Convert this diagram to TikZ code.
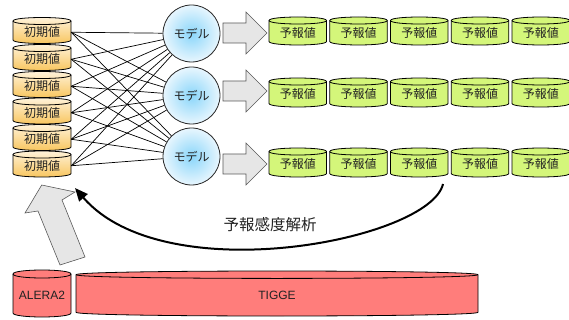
\documentclass[tikz,border=0pt]{standalone}
\usepackage{fontspec}
\setmainfont{Liberation Sans}
\newfontfamily\jpfont{Noto Sans CJK JP}
\usetikzlibrary{arrows.meta}
\definecolor{initTop}{HTML}{FFF4DE}
\definecolor{initBot}{HTML}{F8C45A}
\definecolor{fcGreen}{HTML}{D4F67A}
\definecolor{dbRed}{HTML}{FF7D7B}
\definecolor{mdlIn}{HTML}{8AD6FA}
\definecolor{mdlOut}{HTML}{E8F6FE}
\definecolor{arrGray}{HTML}{E6E6E6}
\definecolor{txtGray}{HTML}{222222}
% #1 name, #2 x1, #3 y1 (top), #4 x2, #5 y2 (bottom), #6 ry, #7 fill style, #8 text
\newcommand\mycyl[8]{%
  \path[#7, draw=black, line width=0.8pt, line join=round]
    (#2,#3+#6) -- (#2,#5-#6)
    .. controls (#2,#5+0.3333*#6) and (#4,#5+0.3333*#6) .. (#4,#5-#6)
    -- (#4,#3+#6)
    .. controls (#4,#3-0.3333*#6) and (#2,#3-0.3333*#6) .. cycle;
  \draw[black, line width=0.8pt]
    (#2,#3+#6) .. controls (#2,#3+2.3333*#6) and (#4,#3+2.3333*#6) .. (#4,#3+#6);
  \node[cyltext, minimum width={#4pt-#2pt}, minimum height={#5pt-#3pt-2*#6pt}]
    (#1) at ({(#2+#4)/2},{(#3+#5)/2+#6/2}) {#8};
}
\begin{document}
\begin{tikzpicture}[x=1pt,y=-1pt,
  cyltext/.style={inner sep=0pt, text=txtGray, font=\fontsize{12}{14}\selectfont},
  initfill/.style={top color=initTop, bottom color=initBot},
  fcfill/.style={fill=fcGreen},
  dbfill/.style={fill=dbRed},
  model/.style={circle, draw=black!85, line width=0.8pt, inner sep=0pt,
    minimum size=57pt, inner color=mdlIn, outer color=mdlOut,
    text=txtGray, font=\jpfont\fontsize{12}{14}\selectfont},
  link/.style={black, line width=0.7pt},
  blockarrow/.style={fill=arrGray, draw=black!65, line width=0.6pt, line join=miter},
  feedback/.style={black, line width=2pt, -{Triangle[length=13pt,width=11pt]}}
]
\useasboundingbox (0,0) rectangle (569,320);

% initial values
\mycyl{i1}{13}{17.5}{71}{43.5}{3.5}{initfill}{\jpfont 初期値}
\mycyl{i2}{13}{44.5}{71}{70.5}{3.5}{initfill}{\jpfont 初期値}
\mycyl{i3}{13}{71.5}{71}{97.5}{3.5}{initfill}{\jpfont 初期値}
\mycyl{i4}{13}{98}{71}{124}{3.5}{initfill}{\jpfont 初期値}
\mycyl{i5}{13}{124.5}{71}{150.5}{3.5}{initfill}{\jpfont 初期値}
\mycyl{i6}{13}{151}{71}{177}{3.5}{initfill}{\jpfont 初期値}

% models
\node[model] (m1) at (191.5,33.5) {モデル};
\node[model] (m2) at (191.5,95.5) {モデル};
\node[model] (m3) at (191.5,156.5) {モデル};

\foreach \i in {1,...,6}{
  \foreach \j in {1,2,3}{
    \draw[link] (i\i.east) -- (m\j);
  }
}

% block arrows
\foreach \c/\n in {33/1,91/2,164/3}{
  \draw[blockarrow] (223,\c-10) -- (246,\c-10) -- (246,\c-21) -- (267,\c)
    -- (246,\c+21) -- (246,\c+10) -- (223,\c+10) -- cycle;
}

% forecast values
\foreach \r/\ya/\yb in {1/17/45,2/78/107,3/148/177}{
  \foreach \k in {0,...,4}{
    \pgfmathsetmacro\xa{269+60.75*\k}
    \pgfmathsetmacro\xb{\xa+57.5}
    \mycyl{f\r\k}{\xa}{\ya}{\xb}{\yb}{3.5}{fcfill}{\jpfont 予報値}
  }
}

% data sources
\mycyl{alera}{13}{270}{71}{317}{4}{dbfill}{ALERA2}
\mycyl{tigge}{76}{271}{478}{316}{3.7}{dbfill}{TIGGE}

% gray arrow from ALERA2 to initial values
\draw[blockarrow] (60,265) -- (85,257) -- (62,200) -- (75,192) -- (41.7,185)
  -- (25,213) -- (38,211) -- cycle;

% feedback curve
\coordinate (cs) at (443,184);
\coordinate (ce) at (75,188);
\draw[feedback] (cs) .. controls (430,240) and (165,292) .. (ce);
\node[text=txtGray, font=\jpfont\fontsize{15.5}{18}\selectfont] (lbl) at (270,225) {予報感度解析};
\end{tikzpicture}
\end{document}
